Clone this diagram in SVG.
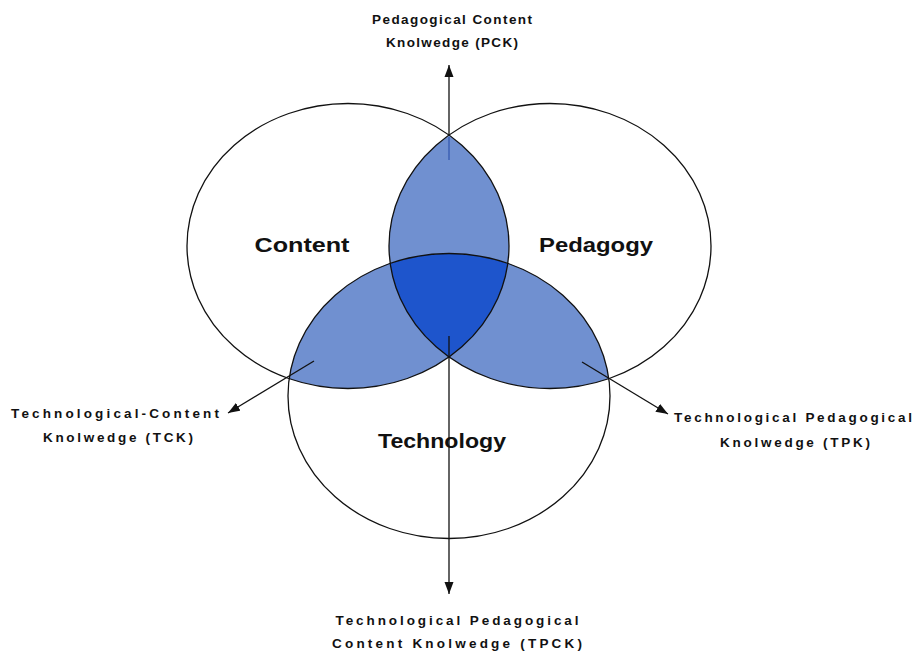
<svg xmlns="http://www.w3.org/2000/svg" width="915" height="654" viewBox="0 0 915 654">
<style>
.circ{fill:none;stroke:#111;stroke-width:1.3}
.lite{fill:#7090d0}
.dark{fill:#1e55cc}
.lbl{font-family:"Liberation Sans",Arial,sans-serif;font-weight:bold;fill:#111;text-anchor:middle}
.big{font-size:20px}
.sm{font-size:13.5px}
.conn{stroke:#111;stroke-width:1.3;fill:none}
</style>
<defs>
<ellipse id="eC" cx="348" cy="246" rx="161" ry="142.5"/>
<ellipse id="eP" cx="550" cy="246" rx="161" ry="142.5"/>
<ellipse id="eT" cx="449" cy="396" rx="161" ry="142.5"/>
<clipPath id="cC"><use href="#eC"/></clipPath>
<clipPath id="cP"><use href="#eP"/></clipPath>
<clipPath id="cT"><use href="#eT"/></clipPath>
<marker id="ah" viewBox="0 0 12 10" refX="12" refY="5" markerWidth="12" markerHeight="10" markerUnits="userSpaceOnUse" orient="auto">
<path d="M0,0.5 L12,5 L0,9.5 z" fill="#111"/>
</marker>
</defs>
<g id="fills">
<use href="#eP" class="lite" clip-path="url(#cC)"/>
<use href="#eT" class="lite" clip-path="url(#cC)"/>
<use href="#eT" class="lite" clip-path="url(#cP)"/>
<g clip-path="url(#cP)"><use href="#eT" class="dark" clip-path="url(#cC)"/></g>
</g>
<g id="content"><use href="#eC" class="circ"/><text class="lbl big" x="302" y="252" textLength="95" lengthAdjust="spacingAndGlyphs">Content</text></g>
<g id="pedagogy"><use href="#eP" class="circ"/><text class="lbl big" x="596" y="252" textLength="114" lengthAdjust="spacingAndGlyphs">Pedagogy</text></g>
<g id="technology"><use href="#eT" class="circ"/><text class="lbl big" x="442" y="448" textLength="128" lengthAdjust="spacingAndGlyphs">Technology</text></g>
<g id="connectors">
<line class="conn" x1="449" y1="136" x2="449" y2="65" marker-end="url(#ah)"/>
<line x1="449" y1="137" x2="449" y2="160" stroke="#3559b0" stroke-width="1.3"/>
<line class="conn" x1="449" y1="336" x2="449" y2="594" marker-end="url(#ah)"/>
<line class="conn" x1="314" y1="361" x2="228" y2="413" marker-end="url(#ah)"/>
<line class="conn" x1="582" y1="362" x2="668" y2="414" marker-end="url(#ah)"/>
</g>
<g id="pck"><text class="lbl sm" x="452" y="24" textLength="160" lengthAdjust="spacing">Pedagogical Content</text><text class="lbl sm" x="452" y="47" textLength="132" lengthAdjust="spacing">Knolwedge (PCK)</text></g>
<g id="tck"><text class="lbl sm" x="115" y="418" textLength="208" lengthAdjust="spacing">Technological-Content</text><text class="lbl sm" x="118" y="442" textLength="150" lengthAdjust="spacing">Knolwedge (TCK)</text></g>
<g id="tpk"><text class="lbl sm" x="793" y="422" textLength="238" lengthAdjust="spacing">Technological Pedagogical</text><text class="lbl sm" x="795" y="447" textLength="150" lengthAdjust="spacing">Knolwedge (TPK)</text></g>
<g id="tpck"><text class="lbl sm" x="457" y="625" textLength="243" lengthAdjust="spacing">Technological Pedagogical</text><text class="lbl sm" x="457" y="648" textLength="250" lengthAdjust="spacing">Content Knolwedge (TPCK)</text></g>
</svg>
